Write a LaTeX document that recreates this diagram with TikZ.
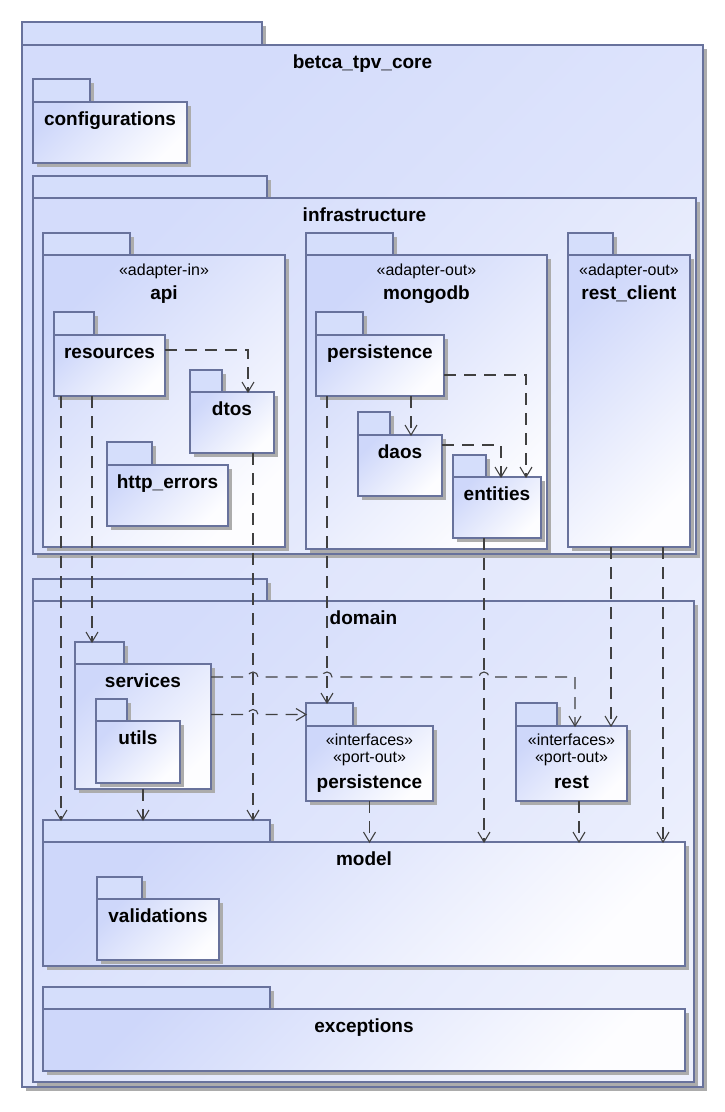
\documentclass[tikz,border=0pt]{standalone}
\usepackage{fontspec}
\setmainfont{Liberation Sans}
\usetikzlibrary{shadows,calc,decorations.markings}

\definecolor{pkgline}{RGB}{104,114,156}
\definecolor{tabfill}{RGB}{213,222,251}
\definecolor{bodyA}{RGB}{206,215,250}
\definecolor{bodyB}{RGB}{253,253,255}
\definecolor{outerA}{RGB}{212,220,251}
\definecolor{outerB}{RGB}{238,241,253}
\definecolor{depline}{RGB}{64,64,64}
\definecolor{shadowcol}{RGB}{172,172,172}

\tikzset{
  pkgshadow/.style={general shadow={shadow xshift=4pt, shadow yshift=-4pt, fill=shadowcol}},
  pkgbase/.style={draw=pkgline, line width=1.2pt, rectangle, inner sep=0pt, outer sep=0pt, pkgshadow},
  pkgtab/.style={pkgbase, fill=tabfill},
  pkgbody/.style={pkgbase, top color=bodyA, bottom color=bodyB, shading angle=45},
  pkgouter/.style={pkgbase, top color=outerA, bottom color=outerB, shading angle=45},
  pkgname/.style={font=\fontsize{19}{22}\selectfont\bfseries, anchor=base, inner sep=0pt},
  stereo/.style={font=\fontsize{16}{19}\selectfont, anchor=base, inner sep=0pt},
  % dashed dependency line ending in a solid open "V" head
  dep/.style={draw=depline, line width=1.1pt, dash pattern=on 12pt off 8pt,
    postaction={decorate, decoration={markings,
      mark=at position 1 with {\draw[solid, draw=depline, line width=1.1pt,
        line join=miter] (-10pt,6pt) -- (0pt,0pt) -- (-10pt,-6pt);}}}},
}

% package = tab node (<name>-tab) + body node (<name>)
% #1 body style, #2 name, #3 left, #4 tab top, #5 tab right, #6 body top, #7 right, #8 bottom
\newcommand\umlpkg[8]{%
  \node[pkgtab, anchor=north west, minimum width={(#5-#3)*1pt}, minimum height={(#6-#4)*1pt}] (#2-tab) at (#3,#4) {};
  \node[#1, anchor=north west, minimum width={(#7-#3)*1pt}, minimum height={(#8-#6)*1pt}] (#2) at (#3,#6) {};
}

\begin{document}
\begin{tikzpicture}[x=1pt,y=-1pt]
\useasboundingbox[fill=white] (0,0) rectangle (725,1112);

% top-level package
\umlpkg{pkgouter}{core}{22}{22}{262}{45}{703}{1087}
\node[pkgname] (core-l) at ([yshift=-23pt]core.north) {betca\_tpv\_core};

\umlpkg{pkgbody}{config}{33}{79}{90}{102}{187}{163}
\node[pkgname] (config-l) at ([yshift=-23pt]config.north) {configurations};

% infrastructure
\umlpkg{pkgouter}{infra}{33}{176}{267}{198}{696}{554}
\node[pkgname] (infra-l) at ([yshift=-23pt]infra.north) {infrastructure};

\umlpkg{pkgbody}{api}{43}{233}{130}{255}{285}{547}
\node[stereo] (api-s) at ([yshift=-20pt]api.north) {«adapter-in»};
\node[pkgname] (api-l) at ([yshift=-44pt]api.north) {api};

\umlpkg{pkgbody}{resources}{54}{312}{94}{335}{165}{396}
\node[pkgname] (resources-l) at ([yshift=-23pt]resources.north) {resources};
\umlpkg{pkgbody}{dtos}{190}{370}{222}{392}{274}{453}
\node[pkgname] (dtos-l) at ([yshift=-23pt]dtos.north) {dtos};
\umlpkg{pkgbody}{httperr}{107}{442}{152}{465}{228}{526}
\node[pkgname] (httperr-l) at ([yshift=-23pt]httperr.north) {http\_errors};

\umlpkg{pkgbody}{mongodb}{306}{233}{393}{255}{547}{549}
\node[stereo] (mongodb-s) at ([yshift=-20pt]mongodb.north) {«adapter-out»};
\node[pkgname] (mongodb-l) at ([yshift=-44pt]mongodb.north) {mongodb};

\umlpkg{pkgbody}{mpersist}{316}{312}{363}{335}{444}{396}
\node[pkgname] (mpersist-l) at ([yshift=-23pt]mpersist.north) {persistence};
\umlpkg{pkgbody}{daos}{358}{412}{390}{435}{442}{496}
\node[pkgname] (daos-l) at ([yshift=-23pt]daos.north) {daos};
\umlpkg{pkgbody}{entities}{453}{455}{486}{477}{541}{538}
\node[pkgname] (entities-l) at ([yshift=-23pt]entities.north) {entities};

\umlpkg{pkgbody}{restclient}{568}{233}{613}{255}{690}{547}
\node[stereo] (restclient-s) at ([yshift=-20pt]restclient.north) {«adapter-out»};
\node[pkgname] (restclient-l) at ([yshift=-44pt]restclient.north) {rest\_client};

% domain
\umlpkg{pkgouter}{domain}{33}{579}{267}{601}{694}{1082}
\node[pkgname] (domain-l) at ([yshift=-23pt]domain.north) {domain};

\umlpkg{pkgbody}{services}{75}{642}{124}{664}{211}{789}
\node[pkgname] (services-l) at ([yshift=-23pt]services.north) {services};
\umlpkg{pkgbody}{utils}{96}{699}{127}{721}{180}{783}
\node[pkgname] (utils-l) at ([yshift=-23pt]utils.north) {utils};

\umlpkg{pkgbody}{ppersist}{306}{703}{353}{726}{433}{801}
\node[stereo] (ppersist-s1) at ([yshift=-19pt]ppersist.north) {«interfaces»};
\node[stereo] (ppersist-s2) at ([yshift=-36pt]ppersist.north) {«port-out»};
\node[pkgname] (ppersist-l) at ([yshift=-62pt]ppersist.north) {persistence};

\umlpkg{pkgbody}{rest}{516}{703}{557}{726}{627}{801}
\node[stereo] (rest-s1) at ([yshift=-19pt]rest.north) {«interfaces»};
\node[stereo] (rest-s2) at ([yshift=-36pt]rest.north) {«port-out»};
\node[pkgname] (rest-l) at ([yshift=-62pt]rest.north) {rest};

\umlpkg{pkgbody}{model}{43}{820}{270}{842}{685}{966}
\node[pkgname] (model-l) at ([yshift=-23pt]model.north) {model};
\umlpkg{pkgbody}{valid}{97}{877}{142}{899}{219}{960}
\node[pkgname] (valid-l) at ([yshift=-23pt]valid.north) {validations};

\umlpkg{pkgbody}{exceptions}{43}{987}{270}{1009}{685}{1071}
\node[pkgname] (exceptions-l) at ([yshift=-23pt]exceptions.north) {exceptions};

% connector end points on the package borders
\coordinate (rsE) at ([yshift=-15pt]resources.north east);
\coordinate (dt1) at ([xshift=58pt]dtos.north west);
\coordinate (r1) at ([xshift=7pt]resources.south west);
\coordinate (r2) at ([xshift=38pt]resources.south west);
\coordinate (d1) at ([xshift=63pt]dtos.south west);
\coordinate (m1) at ([xshift=11pt]mpersist.south west);
\coordinate (m2) at ([xshift=95pt]mpersist.south west);
\coordinate (m3) at ([yshift=-40pt]mpersist.north east);
\coordinate (e1) at ([xshift=73pt]entities.north west);
\coordinate (da1) at ([yshift=-10pt]daos.north east);
\coordinate (e2) at ([xshift=48pt]entities.north west);
\coordinate (e3) at ([xshift=31pt]entities.south west);
\coordinate (rc1) at ([xshift=43pt]restclient.south west);
\coordinate (rc2) at ([xshift=95pt]restclient.south west);
\coordinate (rs1) at ([xshift=59pt]rest.north west);
\coordinate (rs2) at ([xshift=63pt]rest.south west);
\coordinate (s1) at ([yshift=-13pt]services.north east);
\coordinate (s2) at (services.east |- ppersist-tab.west);

% dependencies
\draw[dep] (rsE) -| (dt1);
\draw[dep] (r1) -- (r1 |- model-tab.north);
\draw[dep] (r2) -- (r2 |- services-tab.north);
\draw[dep] (d1) -- (d1 |- model-tab.north);
\draw[dep] (services.south) -- (services.south |- model-tab.north);
\draw[dep] (s2) -- ($(s2 -| d1)+(-5,0)$) arc[start angle=180,end angle=0,radius=5pt]
  -- (ppersist-tab.west);
\draw[dep] (s1) -- ($(s1 -| d1)+(-5,0)$) arc[start angle=180,end angle=0,radius=5pt]
  -- ($(s1 -| m1)+(-5,0)$) arc[start angle=180,end angle=0,radius=5pt]
  -- ($(s1 -| e3)+(-5,0)$) arc[start angle=180,end angle=0,radius=5pt]
  -| (rs1);
\draw[dep] (m2) -- (m2 |- daos.north);
\draw[dep] (m3) -| (e1);
\draw[dep] (da1) -| (e2);
\draw[dep] (m1) -- (m1 |- ppersist-tab.north);
\draw[dep] (e3) -- (e3 |- model.north);
\draw[dep] (rc1) -- (rc1 |- rest.north);
\draw[dep] (rc2) -- (rc2 |- model.north);
\draw[dep] (ppersist.south) -- (ppersist.south |- model.north);
\draw[dep] (rs2) -- (rs2 |- model.north);
\end{tikzpicture}
\end{document}
